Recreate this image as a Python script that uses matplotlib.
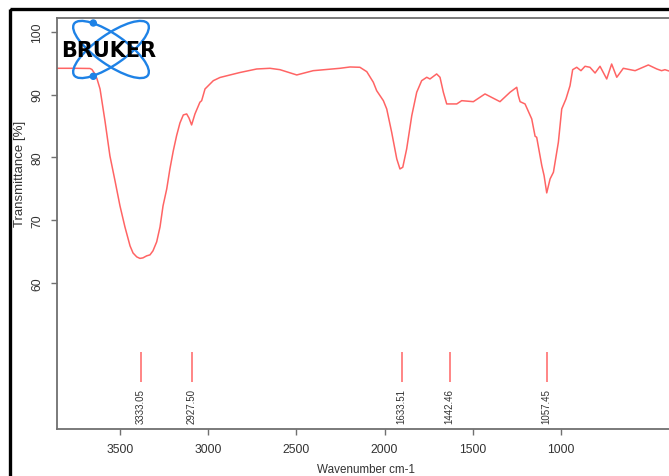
import matplotlib
matplotlib.use("Agg")
import matplotlib.pyplot as plt
from matplotlib.patches import Ellipse, Circle, Rectangle

plt.rcParams["font.family"] = ["Liberation Sans", "DejaVu Sans"]

# spectrum (wavenumber cm-1, transmittance %)
wavenumber = [3857, 3755, 3670, 3659, 3642, 3630, 3613, 3585, 3557, 3528, 3500, 3472,
              3443, 3426, 3405, 3387, 3370, 3349, 3330, 3313, 3292, 3273, 3256, 3235,
              3217, 3198, 3179, 3160, 3141, 3122, 3109, 3094, 3075, 3047, 3037, 3018,
              2971, 2933, 2876, 2820, 2725, 2650, 2593, 2498, 2405, 2253, 2196, 2140,
              2101, 2064, 2045, 2007, 1988, 1960, 1931, 1913, 1897, 1875, 1846, 1818,
              1790, 1761, 1743, 1705, 1686, 1667, 1648, 1591, 1563, 1497, 1431, 1346,
              1289, 1251, 1242, 1232, 1204, 1166, 1147, 1138, 1109, 1096, 1081, 1062,
              1043, 1015, 996, 972, 949, 934, 911, 887, 864, 836, 807, 779, 741, 713,
              684, 647, 580, 505, 457, 430, 411, 388, 360]
transmittance = [94.18, 94.18, 94.15, 93.99, 93.28, 92.48, 90.89, 85.80, 80.24, 76.26, 72.29, 68.95,
                 65.93, 64.80, 64.18, 63.94, 64.02, 64.34, 64.50, 65.14, 66.57, 68.95, 72.29, 74.99,
                 78.17, 81.03, 83.47, 85.49, 86.76, 86.92, 86.28, 85.17, 86.92, 88.78, 89.03, 90.89,
                 92.21, 92.72, 93.12, 93.51, 94.07, 94.18, 93.96, 93.12, 93.80, 94.18, 94.39, 94.34,
                 93.64, 91.96, 90.62, 89.03, 87.71, 84.01, 79.76, 78.17, 78.44, 81.35, 86.65, 90.37,
                 92.21, 92.75, 92.48, 93.28, 92.75, 90.37, 88.51, 88.51, 89.03, 88.87, 90.10, 88.87,
                 90.37, 91.16, 89.83, 88.87, 88.51, 86.12, 83.37, 83.21, 78.70, 77.11, 74.36, 76.58,
                 77.65, 82.42, 87.71, 89.30, 91.41, 93.96, 94.34, 93.80, 94.50, 94.34, 93.43, 94.50,
                 92.48, 94.86, 92.75, 94.18, 93.80, 94.71, 94.07, 93.80, 93.96, 93.75, 94.0]

# peak markers: where they sit on the axis, and their printed labels
peak_pos = [3383, 3094, 1903, 1631, 1081]
peak_labels = ["3333.05", "2927.50", "1633.51", "1442.46", "1057.45"]

xticks = [3500, 3000, 2500, 2000, 1500, 1000]
yticks = [60, 70, 80, 90, 100]

RED = "#ff6464"
GRAY = "#707070"
TXT = "#333333"
W, H = 669, 477

fig = plt.figure(figsize=(W / 100, H / 100), dpi=100)
ax = fig.add_axes([57 / W, 1 - 430 / H, (670.4 - 57) / W, (430 - 18.5) / H])

ax.plot(wavenumber, transmittance, color=RED, lw=1.1)
ax.vlines(peak_pos, 44.26, 49.03, color=RED, lw=1.1)
for p, lab in zip(peak_pos, peak_labels):
    ax.text(p, 43.35, lab, rotation=90, ha="center", va="top", fontsize=7, color=TXT)

ax.set_xlim(3857, 380)
ax.set_ylim(36.8, 102.26)
ax.set_xticks(xticks)
ax.set_yticks(yticks)
ax.tick_params(axis="both", direction="out", length=4.5, width=1, color=GRAY,
               labelsize=8.7, labelcolor=TXT, pad=5.5)
for lab in ax.get_yticklabels():
    lab.set_rotation(90)
    lab.set_va("center")
for s in ax.spines.values():
    s.set_color(GRAY)
    s.set_linewidth(1.3)

fig.text(20 / W, 1 - 174 / H, "Transmittance [%]", rotation=90, ha="center", va="center",
         fontsize=9.5, color=TXT)
fig.text(366 / W, 1 - 470 / H, "Wavenumber cm-1", ha="center", va="center",
         fontsize=8.4, color=TXT)

# overlay in pixel coordinates for the frame and logo
ov = fig.add_axes([0, 0, 1, 1], facecolor="none")
ov.set_xlim(0, W)
ov.set_ylim(H, 0)
ov.axis("off")
ov.add_patch(Rectangle((10, 10), 700, 500, fill=False, ec="black", lw=2.4))
BLUE = "#1e82e6"
ov.add_patch(Ellipse((111, 50.5), 90, 30, angle=35, fill=False, ec=BLUE, lw=1.7))
ov.add_patch(Ellipse((111, 50.5), 90, 30, angle=-35, fill=False, ec=BLUE, lw=1.7))
ov.add_patch(Circle((93.3, 24), 3, color=BLUE))
ov.add_patch(Circle((93.3, 77.3), 3, color=BLUE))
ov.text(109, 51, "BRUKER", ha="center", va="center", fontsize=15, fontweight="heavy",
        family="DejaVu Sans", color="black")

fig.savefig("out.png", dpi=100)
